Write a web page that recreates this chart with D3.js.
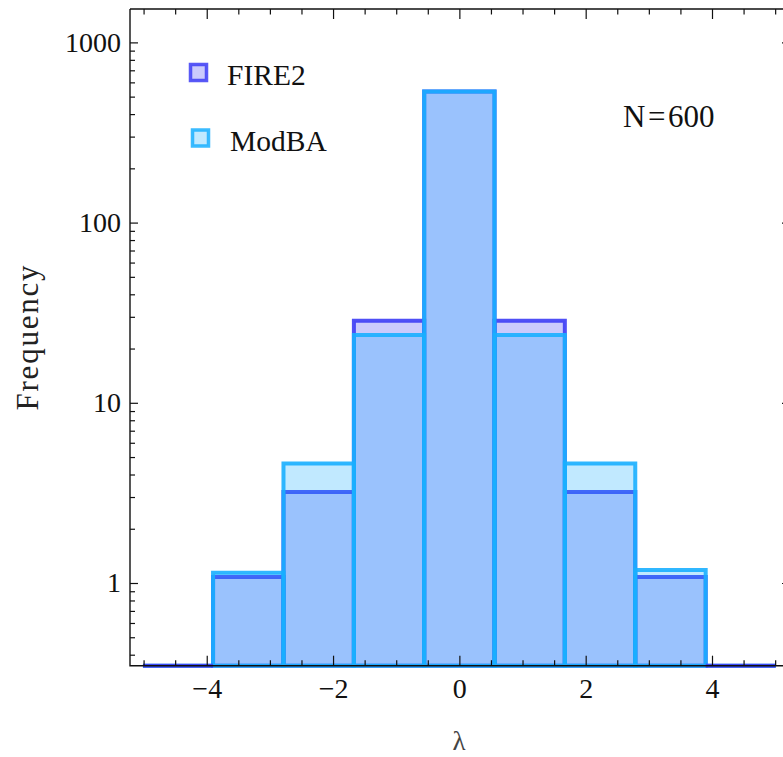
<!DOCTYPE html>
<html>
<head>
<meta charset="utf-8">
<script src="https://cdn.jsdelivr.net/npm/d3@7"></script>
<style>
  body { margin: 0; background: #fff; }
</style>
</head>
<body>
<svg id="chart" width="783" height="757"></svg>
<script>
// Histogram bin edges (shared by both samples)
const binEdges = [-5.01, -3.9, -2.785, -1.67, -0.557, 0.557, 1.67, 2.785, 3.9, 5.01];
// Mean frequency per bin
const seriesNames = ["FIRE2", "ModBA"];
const fire2Freq = [0, 1.08, 3.2, 28.5, 534, 28.5, 3.2, 1.08, 0];
const modbaFreq = [0, 1.14, 4.6, 23.8, 534, 23.8, 4.6, 1.18, 0];
// Axis ticks
const xMajorTicks = [-4, -2, 0, 2, 4];
const xMinorTicks = [-5, -4.5, -3.5, -3, -2.5, -1.5, -1, -0.5, 0.5, 1, 1.5, 2.5, 3, 3.5, 4.5, 5];
const yMajorTicks = [1, 10, 100, 1000];
const yMinorTicks = [0.4, 0.5, 0.6, 0.7, 0.8, 0.9,
                     2, 3, 4, 5, 6, 7, 8, 9,
                     20, 30, 40, 50, 60, 70, 80, 90,
                     200, 300, 400, 500, 600, 700, 800, 900];
const sampleLabelParts = ["N", "=", "600"];
const xTitle = "λ";
const yTitle = "Frequency";

const colors = { FIRE2: "rgb(60,60,245)", ModBA: "rgb(25,175,255)" };
const serif = '"Liberation Serif", "Times New Roman", serif';

const plot = { left: 130, right: 790, top: 9, bottom: 665.7 };
const svg = d3.select("#chart");

const x = d3.scaleLinear().domain([-5.215, 5.235]).range([plot.left, plot.right]);
const y = d3.scaleLog().domain([0.3476, 1532]).range([plot.bottom, plot.top]);
const yMin = y.domain()[0];

// Bars: one closed path per bin so empty bins still show as a flat edge
function barPath(i, v) {
  const x0 = x(binEdges[i]), x1 = x(binEdges[i + 1]);
  const yt = y(Math.max(v, yMin)), yb = y(yMin);
  return `M${x0},${yb}V${yt}H${x1}V${yb}Z`;
}

const series = [
  { name: "FIRE2", values: fire2Freq, order: 0 },
  { name: "ModBA", values: modbaFreq, order: 1 }
];

// Filled bins are stacked FIRE2 then ModBA; empty bins are drawn last with FIRE2 on top
const bars = [];
series.forEach(s => s.values.forEach((v, i) => bars.push({ name: s.name, i, v, order: s.order })));
bars.sort((a, b) => {
  const za = a.v > 0 ? 0 : 1, zb = b.v > 0 ? 0 : 1;
  if (za !== zb) return za - zb;
  return za === 0 ? a.order - b.order : b.order - a.order;
});

svg.append("g")
  .selectAll("path")
  .data(bars)
  .join("path")
  .attr("d", d => barPath(d.i, d.v))
  .attr("fill", d => colors[d.name])
  .attr("fill-opacity", 0.27)
  .attr("stroke", d => colors[d.name])
  .attr("stroke-opacity", 0.9)
  .attr("stroke-width", 4)
  .attr("stroke-linejoin", "miter");

// Frame
const frame = svg.append("g").attr("stroke", "#111").attr("stroke-width", 1.4).attr("fill", "none");
frame.append("path").attr("d", `M${plot.left},${plot.top}V${plot.bottom}H${plot.right}`);
frame.append("path").attr("d", `M${plot.left},${plot.top}H${plot.right}V${plot.bottom}`);

function styleAxis(g, size) {
  g.select(".domain").remove();
  g.attr("color", "#111");
  g.selectAll(".tick line").attr("stroke-width", 1.2);
  g.selectAll(".tick text")
    .style("font-family", serif)
    .style("font-size", size + "px");
}

const fmt = d3.format("d");

// Bottom axis
svg.append("g").attr("transform", `translate(0,${plot.bottom})`)
  .call(d3.axisBottom(x).tickValues(xMajorTicks).tickSize(-10).tickPadding(12).tickFormat(fmt))
  .call(g => styleAxis(g, 28));
svg.append("g").attr("transform", `translate(0,${plot.bottom})`)
  .call(d3.axisBottom(x).tickValues(xMinorTicks).tickSize(-5.5).tickFormat(""))
  .call(g => styleAxis(g, 28));
// Top axis
svg.append("g").attr("transform", `translate(0,${plot.top})`)
  .call(d3.axisTop(x).tickValues(xMajorTicks).tickSize(-10).tickFormat(""))
  .call(g => styleAxis(g, 28));
svg.append("g").attr("transform", `translate(0,${plot.top})`)
  .call(d3.axisTop(x).tickValues(xMinorTicks).tickSize(-5.5).tickFormat(""))
  .call(g => styleAxis(g, 28));
// Left axis
svg.append("g").attr("transform", `translate(${plot.left},0)`)
  .call(d3.axisLeft(y).tickValues(yMajorTicks).tickSize(-8).tickPadding(9).tickFormat(fmt))
  .call(g => styleAxis(g, 28));
svg.append("g").attr("transform", `translate(${plot.left},0)`)
  .call(d3.axisLeft(y).tickValues(yMinorTicks).tickSize(-5).tickFormat(""))
  .call(g => styleAxis(g, 28));
// Right axis
svg.append("g").attr("transform", `translate(${plot.right},0)`)
  .call(d3.axisRight(y).tickValues(yMajorTicks).tickSize(-8).tickFormat(""))
  .call(g => styleAxis(g, 28));
svg.append("g").attr("transform", `translate(${plot.right},0)`)
  .call(d3.axisRight(y).tickValues(yMinorTicks).tickSize(-5).tickFormat(""))
  .call(g => styleAxis(g, 28));

// Axis titles
svg.append("text")
  .attr("transform", `translate(38,338) rotate(-90)`)
  .attr("text-anchor", "middle")
  .style("font-family", serif)
  .style("font-size", "31px")
  .attr("textLength", 145)
  .attr("lengthAdjust", "spacing")
  .attr("fill", "#222")
  .text(yTitle);

svg.append("text")
  .attr("x", (plot.left + plot.right) / 2 - 1)
  .attr("y", 750)
  .attr("text-anchor", "middle")
  .style("font-family", serif)
  .style("font-size", "27px")
  .attr("fill", "#444")
  .text(xTitle);

// Sample size annotation, with a little space around the equals sign
const nText = svg.append("text")
  .attr("x", 623)
  .attr("y", 127)
  .style("font-family", serif)
  .style("font-size", "31px")
  .attr("fill", "#111");
sampleLabelParts.forEach((p, k) => {
  nText.append("tspan").attr("dx", k === 0 ? 0 : 2.5).text(p);
});

// Legend
const legendItems = [
  { name: seriesNames[0], cx: 198.5, cy: 72.5, tx: 227, ty: 85 },
  { name: seriesNames[1], cx: 200.5, cy: 138, tx: 230, ty: 151 }
];
const legend = svg.append("g");
legendItems.forEach(d => {
  legend.append("rect")
    .attr("x", d.cx - 8).attr("y", d.cy - 8)
    .attr("width", 16).attr("height", 16)
    .attr("fill", colors[d.name]).attr("fill-opacity", 0.27)
    .attr("stroke", colors[d.name]).attr("stroke-opacity", 0.85)
    .attr("stroke-width", 3.5);
  legend.append("text")
    .attr("x", d.tx).attr("y", d.ty)
    .style("font-family", serif)
    .style("font-size", "29.5px")
    .attr("fill", "#111")
    .text(d.name);
});
</script>
</body>
</html>
